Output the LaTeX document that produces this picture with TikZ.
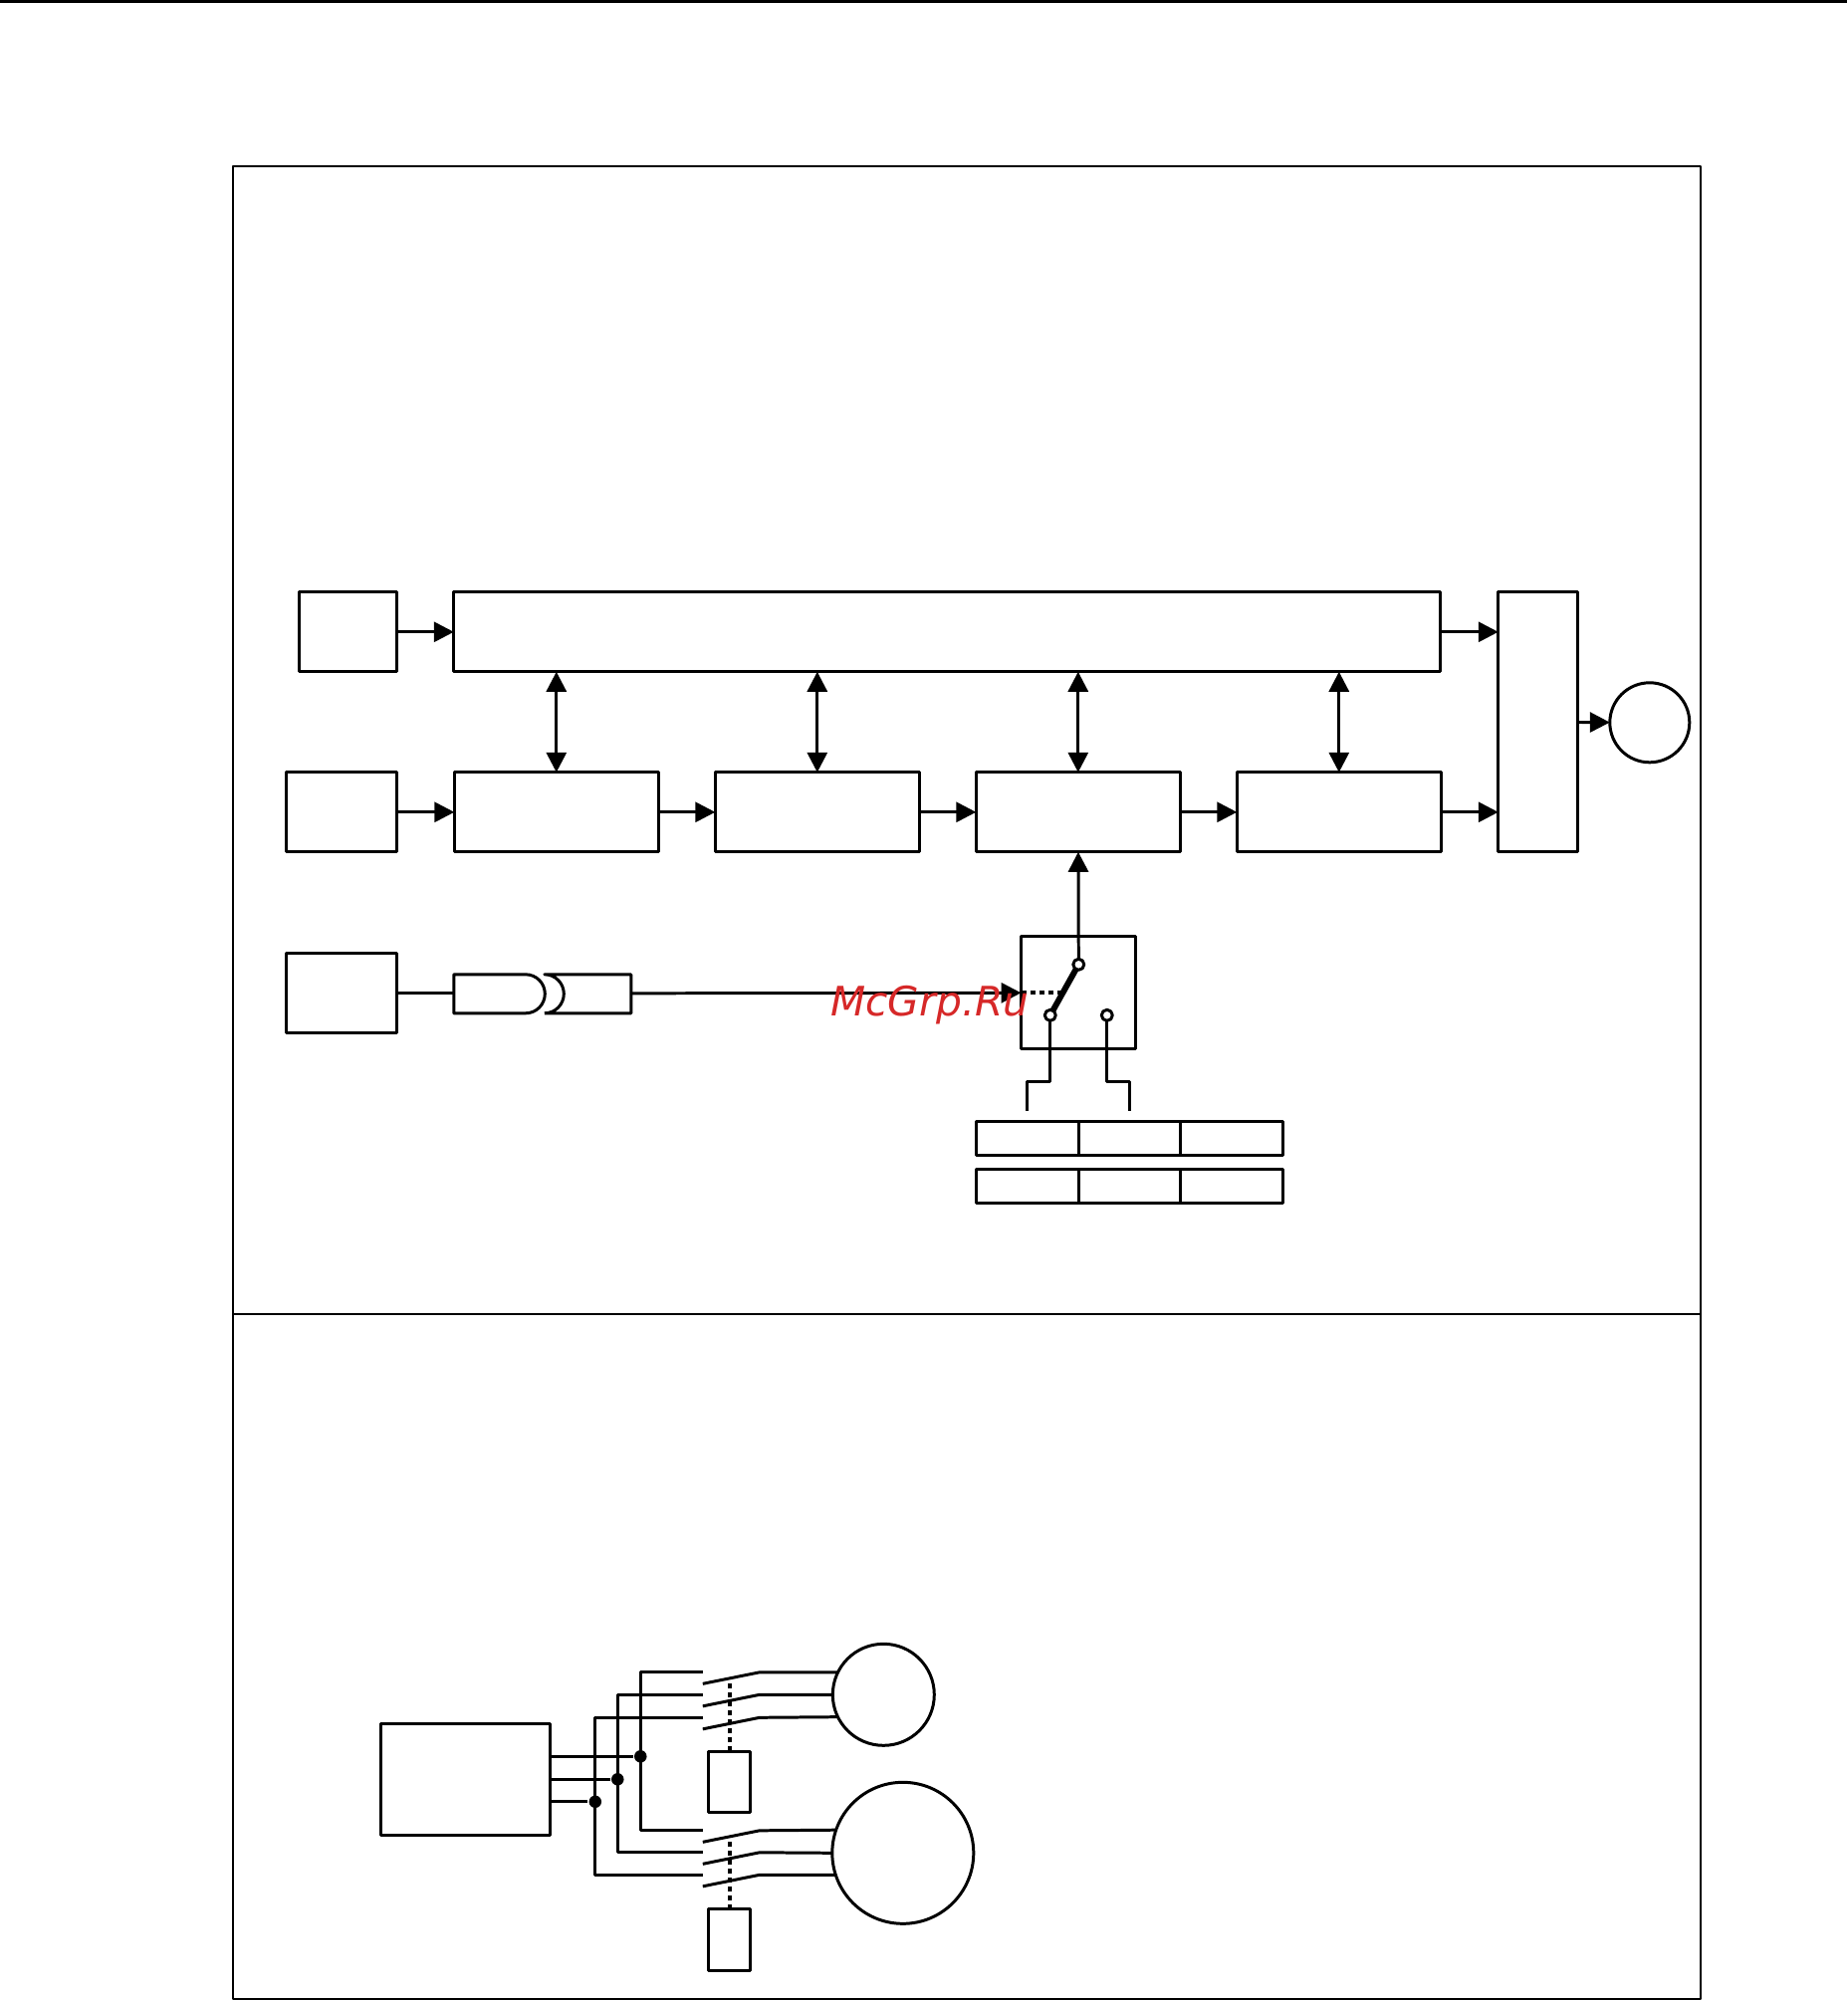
\documentclass[tikz,border=0pt]{standalone}
\usepackage{fontspec}
\setmainfont{DejaVu Sans}
\usetikzlibrary{arrows.meta,positioning}

\definecolor{stampred}{RGB}{214,40,40}

\begin{document}
\begin{tikzpicture}[>={Triangle[length=.2cm,width=.2cm]},on grid,line width=.85pt,line join=round,
    block/.style={draw,rectangle,inner sep=0pt,outer sep=0pt,minimum width=#1},
    block/.default=2.05cm,
    row/.style={block=#1,minimum height=.8cm},
    row/.default=2.05cm,
    cell/.style={block=1.025cm,minimum height=.34cm},
    motor/.style={draw,circle,inner sep=0pt,outer sep=0pt,minimum size=#1},
    contact/.style={motor=.11cm,fill=white},
    junction/.style={circle,fill,inner sep=0pt,minimum size=.125cm},
    linkage/.style={line width=1.1pt,dash pattern=on .05cm off .04cm},
    frameline/.style={line width=.5pt},
    stamp/.style={text=stampred,font=\itshape\fontsize{11.6pt}{14pt}\selectfont,inner sep=0pt}]
  \useasboundingbox (-.008,.008) rectangle (18.542,-20.082);

  \draw[frameline] (2.33,-1.665) rectangle (17.07,-20.07);
  \draw[frameline] (2.33,-13.195) -- (17.07,-13.195);
  \draw (-.008,-.01) -- (18.542,-.01);

  \node[row=.98cm]  (src_a) at (3.49,-6.34) {};
  \node[row=9.91cm] (bus) at (9.505,-6.34) {};
  \node[row=1.11cm] (src_b) at (3.425,-8.15) {};
  \node[row]        (s_1) at (5.58,-8.15) {};
  \node[row]        (s_2) [right=2.62cm of s_1] {};
  \node[row]        (s_3) [right=2.62cm of s_2] {};
  \node[row]        (s_4) [right=2.62cm of s_3] {};
  \node[block=.8cm,minimum height=2.61cm] (mix) at (15.44,-7.245) {};
  \node[motor=.8cm] (out) at (16.56,-7.25) {};
  \node[row=1.11cm] (src_c) at (3.425,-9.97) {};

  \coordinate (plug_in) at (4.55,-9.97);
  \coordinate (plug_out) at (6.33,-9.97);
  \draw (4.55,-9.78) -- (5.27,-9.78) arc[start angle=90,end angle=-90,radius=.195] -- (4.55,-10.17) -- cycle;
  \draw (5.46,-10.17) -- (6.33,-10.17) -- (6.33,-9.78) -- (5.46,-9.78) arc[start angle=90,end angle=-90,radius=.195];

  \node[block=1.145cm,minimum height=1.13cm] (sw) at (10.82,-9.965) {};
  \coordinate (sw_arm) at (10.67,-9.965);
  \coordinate (sel_y) at (0,-10.86);
  \coordinate (t_l) at (10.31,-11.15);
  \coordinate (t_r) at (11.34,-11.15);
  \node[contact] (c_t) at (10.825,-9.68) {};
  \node[contact] (c_l) at (10.54,-10.19) {};
  \node[contact] (c_r) at (11.11,-10.19) {};

  \node[cell] (u_1) at (10.3125,-11.4275) {};
  \node[cell] (u_2) [right=1.025cm of u_1] {};
  \node[cell] (u_3) [right=1.025cm of u_2] {};
  \node[cell] (v_1) at (10.3125,-11.91) {};
  \node[cell] (v_2) [right=1.025cm of v_1] {};
  \node[cell] (v_3) [right=1.025cm of v_2] {};

  \path[->] (src_a) edge (bus)
            (src_b) edge (s_1)
            (s_1) edge (s_2)
            (s_2) edge (s_3)
            (s_3) edge (s_4)
            (bus) edge (mix.west |- bus)
            (s_4) edge (mix.west |- s_4)
            (mix) edge (out)
            (plug_out) edge (sw.west)
            (c_t) edge (s_3);
  \path[<->] (bus.south -| s_1) edge (s_1)
             (bus.south -| s_2) edge (s_2)
             (bus.south -| s_3) edge (s_3)
             (bus.south -| s_4) edge (s_4);
  \draw (src_c) -- (plug_in);
  \draw[linkage] (sw.west) -- (sw_arm);
  \draw[line width=1.7pt] (c_t) -- (c_l);
  \draw (c_l) -- (c_l |- sel_y) -| (t_l);
  \draw (c_r) -- (c_r |- sel_y) -| (t_r);

  % lower panel
  \node[block=1.7cm,minimum height=1.125cm] (gen) at (4.67,-17.865) {};
  \node[motor=1.02cm] (m_1) at (8.865,-17.015) {};
  \node[motor=1.42cm] (m_2) at (9.06,-18.605) {};
  \node[block=.42cm,minimum height=.615cm] (k_1) at (7.315,-17.89) {};
  \node[block=.42cm,minimum height=.615cm] (k_2) at (7.315,-19.475) {};

  \node[junction] (j_1) at (6.425,-17.635) {};
  \node[junction] (j_2) at (6.195,-17.865) {};
  \node[junction] (j_3) at (5.97,-18.09) {};

  \coordinate (p_1) at (7.05,-16.79);
  \coordinate (p_2) at (7.05,-17.015);
  \coordinate (p_3) at (7.05,-17.245);
  \coordinate (q_1) at (7.05,-18.38);
  \coordinate (q_2) at (7.05,-18.6);
  \coordinate (q_3) at (7.05,-18.825);
  \coordinate (l_1) at (7.325,-16.85);
  \coordinate (l_2) at (7.325,-18.44);

  \draw (gen.east |- j_1) -- (j_1);
  \draw (gen.east |- j_2) -- (j_2);
  \draw (gen.east |- j_3) -- (j_3);

  \draw (p_1) -- (p_1 -| j_1) -- (q_1 -| j_1) -- (q_1);
  \draw (p_2) -- (p_2 -| j_2) -- (q_2 -| j_2) -- (q_2);
  \draw (p_3) -- (p_3 -| j_3) -- (q_3 -| j_3) -- (q_3);

  \draw (p_1) ++(0,-.115) -- ++(.57,.115) -- (m_1.154);
  \draw (p_2) ++(0,-.115) -- ++(.57,.115) -- (m_1.west);
  \draw (p_3) ++(0,-.115) -- ++(.57,.115) -- (m_1.206);
  \draw (q_1) ++(0,-.115) -- ++(.57,.115) -- (m_2.161.5);
  \draw (q_2) ++(0,-.115) -- ++(.57,.115) -- (m_2.west);
  \draw (q_3) ++(0,-.115) -- ++(.57,.115) -- (m_2.198.5);

  \draw[linkage] (k_1.north -| l_1) -- (l_1);
  \draw[linkage] (k_2.north -| l_2) -- (l_2);

  \node[stamp] (wm) at (9.33,-10.09) {McGrp.Ru};
\end{tikzpicture}
\end{document}
